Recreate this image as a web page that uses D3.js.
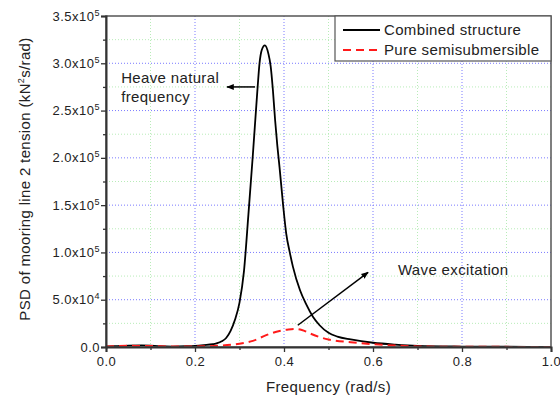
<!DOCTYPE html>
<html>
<head>
<meta charset="utf-8">
<script src="https://cdn.jsdelivr.net/npm/d3@7"></script>
<style>
  body { margin: 0; background: #fff; }
  text { font-family: "Liberation Sans", Arial, sans-serif; fill: #222; }
</style>
</head>
<body>
<div id="chart"></div>
<script>
// width and height
var w = 560;
var h = 401;
var margin = {top: 16, right: 9, bottom: 54, left: 106};

// frequency (rad/s) and PSD values
var combinedFreq = [0, 0.02, 0.05, 0.08, 0.1, 0.12, 0.15, 0.18, 0.2, 0.22, 0.24, 0.25, 0.26, 0.27, 0.28, 0.29,
  0.30, 0.31, 0.32, 0.33, 0.34, 0.345, 0.35, 0.357, 0.365, 0.37, 0.375, 0.38, 0.385, 0.39, 0.398, 0.405,
  0.413, 0.42, 0.436, 0.45, 0.465, 0.48, 0.5, 0.52, 0.55, 0.6, 0.65, 0.7, 0.8, 0.9, 1.0];
var combinedPsd = [500, 800, 1500, 1800, 1500, 800, 500, 800, 1200, 2000, 3000, 4000, 6000, 9500, 17000, 29000,
  47000, 80000, 140000, 203000, 270000, 300000, 314000, 319000, 310000, 297000, 272000, 240000, 213000, 190000, 150000, 120000,
  100000, 85000, 60000, 45000, 32000, 23000, 15000, 11000, 8000, 4500, 2500, 1200, 500, 250, 150];

var pureFreq = [0, 0.05, 0.1, 0.15, 0.2, 0.25, 0.3, 0.33, 0.36, 0.39, 0.41, 0.425, 0.44, 0.46, 0.48, 0.5,
  0.55, 0.6, 0.65, 0.7, 0.8, 1.0];
var purePsd = [500, 1200, 1000, 400, 600, 1200, 3500, 6500, 12500, 17000, 18500, 19000, 18000, 14000, 10500, 8000,
  5000, 3000, 1500, 600, 200, 100];

var xTicks = [0, 0.2, 0.4, 0.6, 0.8, 1.0];
var xMinor = [0.1, 0.3, 0.5, 0.7, 0.9];
var yTicks = [0, 50000, 100000, 150000, 200000, 250000, 300000, 350000];
var yTickMant = ["0.0", "5.0", "1.0", "1.5", "2.0", "2.5", "3.0", "3.5"];
var yTickExp = ["", "4", "5", "5", "5", "5", "5", "5"];
var yMinor = [25000, 75000, 125000, 175000, 225000, 275000, 325000];

var seriesNames = ["Combined structure", "Pure semisubmersible"];

var iw = w - margin.left - margin.right;
var ih = h - margin.top - margin.bottom;

var x = d3.scaleLinear().domain([0, 1]).range([0, iw]);
var y = d3.scaleLinear().domain([0, 350000]).range([ih, 0]);

var svg = d3.select("#chart")
  .append("svg")
  .attr("width", w)
  .attr("height", h);

var g = svg.append("g")
  .attr("transform", "translate(" + margin.left + "," + margin.top + ")");

// grid: minor (green) then major (blue)
g.selectAll(".gx-minor").data(xMinor).enter().append("line")
  .attr("x1", d => x(d)).attr("x2", d => x(d)).attr("y1", 0).attr("y2", ih)
  .attr("stroke", "#b8ecb8").attr("stroke-dasharray", "1,2");
g.selectAll(".gy-minor").data(yMinor).enter().append("line")
  .attr("y1", d => y(d)).attr("y2", d => y(d)).attr("x1", 0).attr("x2", iw)
  .attr("stroke", "#b8ecb8").attr("stroke-dasharray", "1,2");
g.selectAll(".gx-major").data(xTicks.slice(1, -1)).enter().append("line")
  .attr("x1", d => x(d)).attr("x2", d => x(d)).attr("y1", 0).attr("y2", ih)
  .attr("stroke", "#7a7aff").attr("stroke-dasharray", "1,2");
g.selectAll(".gy-major").data(yTicks.slice(1, -1)).enter().append("line")
  .attr("y1", d => y(d)).attr("y2", d => y(d)).attr("x1", 0).attr("x2", iw)
  .attr("stroke", "#7a7aff").attr("stroke-dasharray", "1,2");

// lines
var line = d3.line().curve(d3.curveMonotoneX);

g.append("path")
  .datum(d3.zip(combinedFreq, combinedPsd))
  .attr("d", line.x(d => x(d[0])).y(d => y(d[1])))
  .attr("fill", "none")
  .attr("stroke", "#000")
  .attr("stroke-width", 1.8);

g.append("path")
  .datum(d3.zip(pureFreq, purePsd))
  .attr("d", line.x(d => x(d[0])).y(d => y(d[1])))
  .attr("fill", "none")
  .attr("stroke", "#ff1a1a")
  .attr("stroke-width", 2)
  .attr("stroke-dasharray", "8,5");

// frame
g.append("rect")
  .attr("width", iw).attr("height", ih)
  .attr("fill", "none").attr("stroke", "#555").attr("stroke-width", 1.5);

// x axis
var xAxis = g.append("g").attr("transform", "translate(0," + ih + ")")
  .call(d3.axisBottom(x).tickValues(xTicks).tickFormat(d3.format(".1f")).tickSize(5).tickPadding(5));
g.append("g").attr("transform", "translate(0," + ih + ")")
  .call(d3.axisBottom(x).tickValues(xMinor).tickFormat("").tickSize(3))
  .select(".domain").remove();

// y axis
var yAxis = g.append("g")
  .call(d3.axisLeft(y).tickValues(yTicks).tickFormat("").tickSize(5));
g.append("g")
  .call(d3.axisLeft(y).tickValues(yMinor).tickFormat("").tickSize(3))
  .select(".domain").remove();

g.selectAll(".domain").attr("stroke", "#333").attr("stroke-width", 2);
g.selectAll(".tick line").attr("stroke", "#333").attr("stroke-width", 1.3);
xAxis.selectAll("text").attr("font-size", 13).attr("fill", "#222")
  .attr("letter-spacing", 0.5)
  .attr("font-family", "Liberation Sans, Arial, sans-serif");

// y tick labels with superscript exponents
var yl = g.selectAll(".ylab").data(yTicks).enter().append("text")
  .attr("x", -6)
  .attr("y", d => y(d) + 4.5)
  .attr("text-anchor", "end")
  .attr("font-size", 13)
  .attr("letter-spacing", 0.5);
yl.append("tspan").text((d, i) => yTickMant[i] + (yTickExp[i] ? "x10" : ""));
yl.append("tspan")
  .attr("font-size", 9)
  .attr("dy", -5)
  .text((d, i) => yTickExp[i]);

// axis titles
svg.append("text")
  .attr("x", margin.left + iw / 2)
  .attr("y", 392)
  .attr("text-anchor", "middle")
  .attr("font-size", 15)
  .attr("letter-spacing", 0.4)
  .text("Frequency (rad/s)");

var yt = svg.append("text")
  .attr("transform", "translate(30,179) rotate(-90)")
  .attr("text-anchor", "middle")
  .attr("font-size", 15)
  .attr("letter-spacing", 0.35);
yt.append("tspan").text("PSD of mooring line 2 tension (kN");
yt.append("tspan").attr("font-size", 9).attr("dy", -6).text("2");
yt.append("tspan").attr("dy", 6).text("s/rad)");

// legend
var lg = g.append("g").attr("transform", "translate(" + (iw - 216) + ",0)");
lg.append("rect")
  .attr("width", 216).attr("height", 45)
  .attr("fill", "#fff").attr("stroke", "#555").attr("stroke-width", 1.2);
seriesNames.forEach(function(name, i) {
  var ly = 14 + i * 20;
  lg.append("line")
    .attr("x1", 8).attr("x2", 45).attr("y1", ly).attr("y2", ly)
    .attr("stroke", i == 0 ? "#000" : "#ff1a1a")
    .attr("stroke-width", 2)
    .attr("stroke-dasharray", i == 0 ? null : "8,5");
  lg.append("text")
    .attr("x", 49).attr("y", ly + 5)
    .attr("font-size", 15)
    .attr("letter-spacing", 0.35)
    .text(name);
});

// annotations
svg.append("defs").append("marker")
  .attr("id", "arrow")
  .attr("viewBox", "0 0 10 10")
  .attr("refX", 9).attr("refY", 5)
  .attr("markerWidth", 5).attr("markerHeight", 5)
  .attr("orient", "auto")
  .append("path").attr("d", "M0,1 L10,5 L0,9 Z").attr("fill", "#000");

var heave = g.append("text").attr("font-size", 15).attr("letter-spacing", 0.35);
heave.append("tspan").attr("x", x(0.034)).attr("y", y(279000)).text("Heave natural");
heave.append("tspan").attr("x", x(0.034)).attr("y", y(259000)).text("frequency");
g.append("line")
  .attr("x1", x(0.335)).attr("y1", y(275000))
  .attr("x2", x(0.272)).attr("y2", y(275000))
  .attr("stroke", "#000").attr("stroke-width", 1.5)
  .attr("marker-end", "url(#arrow)");

g.append("text")
  .attr("x", x(0.656)).attr("y", y(76000))
  .attr("font-size", 15)
  .attr("letter-spacing", 0.35)
  .text("Wave excitation");
g.append("line")
  .attr("x1", x(0.431)).attr("y1", y(23000))
  .attr("x2", x(0.589)).attr("y2", y(79000))
  .attr("stroke", "#000").attr("stroke-width", 1.5)
  .attr("marker-end", "url(#arrow)");
</script>
</body>
</html>
